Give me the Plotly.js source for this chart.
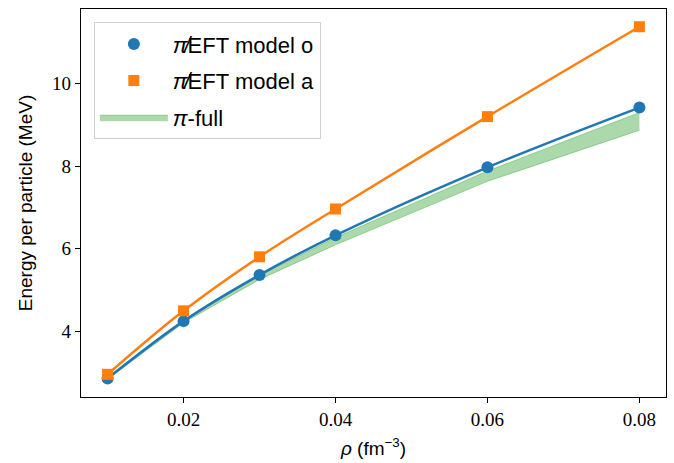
<!DOCTYPE html>
<html>
<head>
<meta charset="utf-8">
<script src="https://cdn.plot.ly/plotly-3.0.1.min.js"></script>
<style>html,body{margin:0;padding:0;background:#fff;}#chart{width:674px;height:463px;}</style>
</head>
<body>
<div id="chart"></div>
<script>
const rho = [0.01, 0.02, 0.03, 0.04, 0.06, 0.08];
const modelO = [2.85, 4.24, 5.36, 6.32, 7.97, 9.42];
const modelA = [2.95, 4.49, 5.80, 6.96, 9.20, 11.38];
const piFullLow = [2.83, 4.20, 5.25, 6.09, 7.63, 8.87];
const piFullHigh = [2.86, 4.25, 5.35, 6.27, 7.88, 9.30];
const xTicks = [0.02, 0.04, 0.06, 0.08];
const yTicks = [4, 6, 8, 10];

const blue = '#1f77b4', orange = '#ff7f0e';
const bandFill = 'rgba(44,160,44,0.4)';
const sans = 'Liberation Sans, Arial, sans-serif';
const serif = 'Liberation Serif, Times New Roman, serif';

const traces = [
  {x: rho, y: piFullLow, mode: 'lines', line: {color: 'rgba(44,160,44,0.4)', width: 1}, showlegend: false, hoverinfo: 'skip', legendgroup: 'c'},
  {x: rho, y: piFullHigh, mode: 'lines', fill: 'tonexty', fillcolor: bandFill, line: {color: 'rgba(44,160,44,0.4)', width: 1}, name: '<i>π</i>-full', legendrank: 3, legendgroup: 'c'},
  {x: rho, y: modelA, mode: 'lines', line: {color: orange, width: 2.5, shape: 'spline'}, showlegend: false},
  {x: rho, y: modelO, mode: 'lines', line: {color: blue, width: 2.5, shape: 'spline'}, showlegend: false},
  {x: rho, y: modelO, mode: 'markers', marker: {color: blue, size: 12, symbol: 'circle'}, name: '<i>π̸</i>EFT model o', legendrank: 1, legendgroup: 'a'},
  {x: rho, y: modelA, mode: 'markers', marker: {color: orange, size: 11, symbol: 'square'}, name: '<i>π̸</i>EFT model a', legendrank: 2, legendgroup: 'b'}
];

const layout = {
  width: 674, height: 463,
  margin: {l: 81, r: 8, t: 9, b: 66},
  paper_bgcolor: '#fff', plot_bgcolor: '#fff',
  xaxis: {
    range: [0.0065, 0.0835], tickvals: xTicks, ticktext: xTicks.map(v => v.toFixed(2)),
    ticks: 'outside', ticklen: 5, tickwidth: 1, tickcolor: '#000',
    showline: true, linecolor: '#000', linewidth: 1.2, mirror: true,
    showgrid: false, zeroline: false,
    tickfont: {family: serif, size: 19, color: '#000'},
    title: {text: '<i>ρ</i> (fm<sup>−3</sup>)', font: {family: sans, size: 19, color: '#000'}, standoff: 12}
  },
  yaxis: {
    range: [2.40, 11.81], tickvals: yTicks,
    ticks: 'outside', ticklen: 5, tickwidth: 1, tickcolor: '#000',
    showline: true, linecolor: '#000', linewidth: 1.2, mirror: true,
    showgrid: false, zeroline: false,
    tickfont: {family: serif, size: 19, color: '#000'},
    title: {text: 'Energy per particle (MeV)', font: {family: sans, size: 19, color: '#000'}, standoff: 14}
  },
  legend: {
    x: 0.022, y: 0.966, xanchor: 'left', yanchor: 'top',
    traceorder: 'grouped',
    bgcolor: 'rgba(255,255,255,0.8)', bordercolor: '#d0d0d0', borderwidth: 1,
    font: {family: sans, size: 22, color: '#000'},
    itemwidth: 68, tracegroupgap: 5
  },
  showlegend: true
};

Plotly.newPlot('chart', traces, layout, {displayModeBar: false, staticPlot: true});
</script>
</body>
</html>
